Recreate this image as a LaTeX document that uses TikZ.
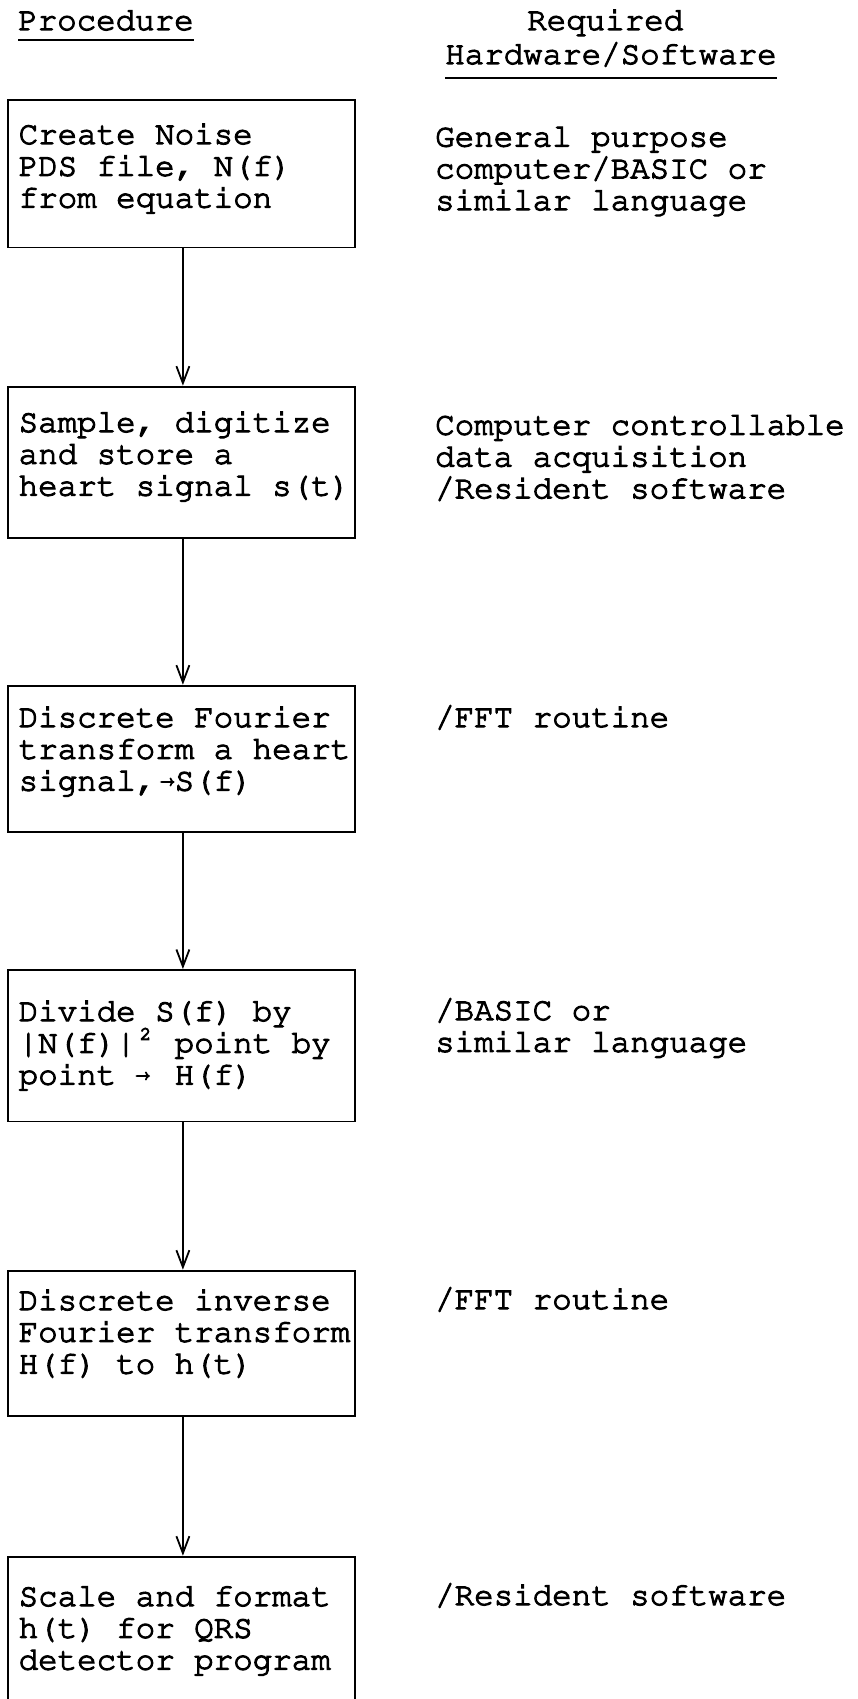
\documentclass[tikz,border=0pt]{standalone}
\usepackage[T1]{fontenc}
\usepackage{courier}
\usetikzlibrary{arrows.meta}
\newcommand\tw{\fontsize{32.5}{31.8}\selectfont\ttfamily}
\newcommand\heavyon{\special{pdf:literal direct 2 Tr 1.1 w}}
\newcommand\heavyoff{\special{pdf:literal direct 0 Tr}}
\newcommand\mylines[1]{\heavyon\vtop{\tw #1}\heavyoff}
\newcommand\lnx[1]{\hbox{#1}}
\newcommand\smallarr{\raisebox{5pt}{\fontsize{15}{15}\selectfont$\rightarrow$}}
\newcommand\sqr{\raisebox{13pt}{\fontsize{19}{19}\selectfont 2}}
\begin{document}
\begin{tikzpicture}[x=1pt,y=-1pt,
  box/.style={draw, line width=1.8pt, anchor=north west, inner sep=0, minimum width=347pt},
  txt/.style={anchor=base west, inner sep=0, font=\tw},
  arr/.style={line width=1.8pt, -{Straight Barb[length=17pt,width=13pt]}},
  uline/.style={line width=1.8pt}]
\useasboundingbox[fill=white] (0,0) rectangle (858,1699);

% headings
\node[txt] (hp) at (18,30) {\mylines{\lnx{Procedure}}};
\node[txt] (hr) at (527,30) {\mylines{\lnx{Required}}};
\node[txt] (hh) at (445,64) {\mylines{\lnx{Hardware/Software}}};
\draw[uline] ([yshift=-10pt]hp.base west) -- ([yshift=-10pt]hp.base east);
\draw[uline] ([yshift=-14pt]hh.base west) -- ([yshift=-14pt]hh.base east);

% boxes
\node[box, minimum height=147.5pt] (b1) at (7,99) {};
\node[box, minimum height=151.6pt] (b2) at (7,385.7) {};
\node[box, minimum height=146.3pt] (b3) at (7,684.7) {};
\node[box, minimum height=151.5pt] (b4) at (7,969) {};
\node[box, minimum height=145.1pt] (b5) at (7,1269.7) {};
\node[box, minimum height=170pt] (b6) at (7,1555.7) {};

% box texts
\node[txt] (t1) at (18.5,144) {\mylines{\lnx{Create Noise}\lnx{PDS file, N(f)}\lnx{from equation}}};
\node[txt] (t2) at (18.5,432) {\mylines{\lnx{Sample, digitize}\lnx{and store a}\lnx{heart signal s(t)}}};
\node[txt] (t3) at (18.5,727) {\mylines{\lnx{Discrete Fourier}\lnx{transform a heart}\lnx{signal,\makebox[19.5pt][r]{\smallarr}S(f)}}};
\node[txt] (t4) at (18.5,1021) {\mylines{\lnx{Divide S(f) by}\lnx{|N(f)|\makebox[19.5pt]{\sqr} point by}\lnx{point \makebox[19.5pt][l]{\smallarr} H(f)}}};
\node[txt] (t5) at (18.5,1310) {\mylines{\lnx{Discrete inverse}\lnx{Fourier transform}\lnx{H(f) to h(t)}}};
\node[txt] (t6) at (18.5,1606) {\mylines{\lnx{Scale and format}\lnx{h(t) for QRS}\lnx{detector program}}};

% right texts
\node[txt] (r1) at (435,146.5) {\mylines{\lnx{General purpose}\lnx{computer/BASIC or}\lnx{similar language}}};
\node[txt] (r2) at (435,434.7) {\mylines{\lnx{Computer controllable}\lnx{data acquisition}\lnx{/Resident software}}};
\node[txt] (r3) at (435,727) {\mylines{\lnx{/FFT routine}}};
\node[txt] (r4) at (435,1020) {\mylines{\lnx{/BASIC or}\lnx{similar language}}};
\node[txt] (r5) at (435,1309) {\mylines{\lnx{/FFT routine}}};
\node[txt] (r6) at (435,1605) {\mylines{\lnx{/Resident software}}};

% arrows
\draw[arr] ([xshift=1.5pt]b1.south) -- ([xshift=1.5pt]b2.north);
\draw[arr] ([xshift=1.5pt]b2.south) -- ([xshift=1.5pt]b3.north);
\draw[arr] ([xshift=1.5pt]b3.south) -- ([xshift=1.5pt]b4.north);
\draw[arr] ([xshift=1.5pt]b4.south) -- ([xshift=1.5pt]b5.north);
\draw[arr] ([xshift=1.5pt]b5.south) -- ([xshift=1.5pt]b6.north);
\end{tikzpicture}
\end{document}
